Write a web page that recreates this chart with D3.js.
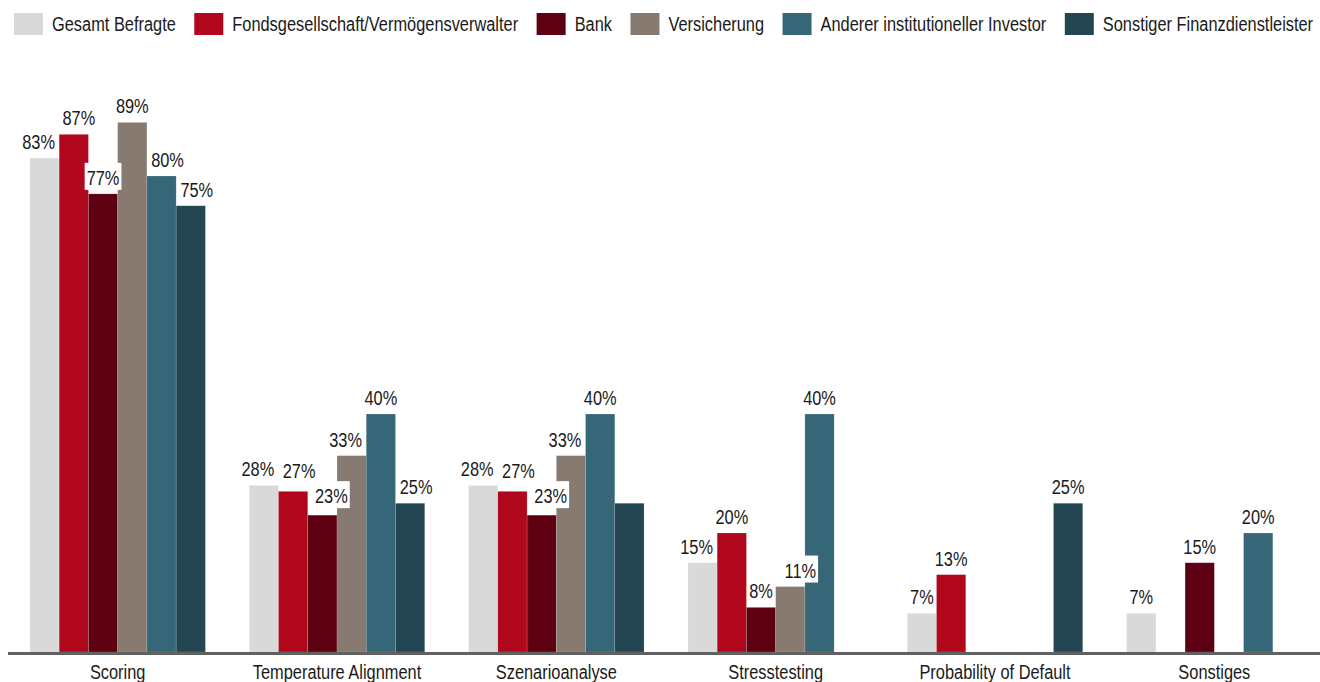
<!DOCTYPE html>
<html>
<head>
<meta charset="utf-8">
<script src="https://cdn.jsdelivr.net/npm/d3@7"></script>
<style>
  html, body { margin: 0; padding: 0; background: #fff; }
  svg { display: block; }
  text { font-family: "Liberation Sans", Arial, sans-serif; fill: #1a1a1a; }
</style>
</head>
<body>
<svg id="chart" width="1320" height="682"></svg>
<script>
// ---- data ----
const categories = ["Scoring", "Temperature Alignment", "Szenarioanalyse", "Stresstesting", "Probability of Default", "Sonstiges"];
const seriesNames = ["Gesamt Befragte", "Fondsgesellschaft/Vermögensverwalter", "Bank", "Versicherung", "Anderer institutioneller Investor", "Sonstiger Finanzdienstleister"];
const gesamtBefragte  = [83, 28, 28, 15, 6.5, 6.5];
const fondsgesellschaft = [87, 27, 27, 20, 13, 0];
const bank            = [77, 23, 23, 7.5, 0, 15];
const versicherung    = [89, 33, 33, 11, 0, 0];
const andererInvestor = [80, 40, 40, 40, 0, 20];
const sonstigerFinanz = [75, 25, 25, 0, 25, 0];
const seriesValues = [gesamtBefragte, fondsgesellschaft, bank, versicherung, andererInvestor, sonstigerFinanz];
// labels not shown in the original
const hiddenLabels = [["Szenarioanalyse", "Sonstiger Finanzdienstleister"]];

// ---- styles / layout ----
const colors = ["#d9d9d9", "#b1071d", "#5d0011", "#877b71", "#356779", "#244653"];
// label nudges (per category, per series), as placed in the original
const labelNudgeX = [
  [-6, 5, 0, 0, 6, 6],
  [-6, 6, 9, -6, 0, 6],
  [-6, 6, 9, -6, 0, 6],
  [-6, 0, 0, 10, 0, 0],
  [0, 0, 0, 0, 0, 0],
  [0, 0, 0, 0, 0, 0]
];
const labelNudgeY = [
  [0, 0, 0, 0, 0, 0],
  [0, -4, -3, 0, 0, 0],
  [0, -4, -3, 0, 0, 0],
  [0, 0, 0, 0, 0, 0],
  [0, 0, 0, 0, 0, 0],
  [0, 0, 0, 0, 0, 0]
];

const svg = d3.select("#chart");
const FONT = 21;
const SQUEEZE = 0.78; // narrow-font emulation
const narrow = `scale(${SQUEEZE},1)`;

const x0 = d3.scaleBand().domain(categories).range([8, 1324]).paddingInner(0.2).paddingOuter(0.1);
const x1 = d3.scaleBand().domain(seriesNames).range([0, x0.bandwidth()]);
const y = d3.scaleLinear().domain([0, 100]).range([652, 57]);

const rows = [];
categories.forEach((c, ci) => {
  seriesNames.forEach((s, si) => {
    rows.push({ cat: c, ci, ser: s, si, v: seriesValues[si][ci] });
  });
});
const shown = rows.filter(d => d.v > 0);

// bars
svg.append("g").selectAll("rect").data(shown).join("rect")
  .attr("x", d => x0(d.cat) + x1(d.ser))
  .attr("y", d => y(d.v))
  .attr("width", x1.bandwidth())
  .attr("height", d => y(0) - y(d.v))
  .attr("fill", d => colors[d.si])
  .attr("stroke", "#ffffff")
  .attr("stroke-opacity", 0.25)
  .attr("stroke-width", 0.6);

// axis
const xAxis = d3.axisBottom(x0).tickSize(0).tickPadding(0);
const ax = svg.append("g").attr("transform", `translate(0,${y(0)})`).call(xAxis);
ax.select(".domain").attr("d", "M8,1.5H1320").attr("stroke", "#616161").attr("stroke-width", 3);
ax.selectAll(".tick text")
  .attr("y", 27).attr("dy", 0)
  .attr("transform", narrow)
  .style("font-size", FONT + "px")
  .style("font-family", "'Liberation Sans', Arial, sans-serif")
  .attr("fill", "#1a1a1a");

// value labels with white boxes
const labelData = shown.filter(d => !hiddenLabels.some(h => h[0] === d.cat && h[1] === d.ser));
const lg = svg.append("g");
const labs = lg.selectAll("g").data(labelData).join("g")
  .attr("transform", d => `translate(${x0(d.cat) + x1(d.ser) + x1.bandwidth() / 2 + labelNudgeX[d.ci][d.si]}, ${y(d.v) - 9 + labelNudgeY[d.ci][d.si]})`);
labs.append("rect").attr("fill", "#ffffff");
labs.append("text")
  .attr("text-anchor", "middle")
  .attr("transform", narrow)
  .style("font-size", FONT + "px")
  .text(d => Math.round(d.v) + "%");
labs.each(function () {
  const g = d3.select(this);
  const w = g.select("text").node().getComputedTextLength() * SQUEEZE;
  g.select("rect").attr("x", -w / 2 - 2).attr("y", -22).attr("width", w + 4).attr("height", 27);
});

// legend
const leg = svg.append("g").attr("transform", "translate(14,13)");
let lx = 0;
seriesNames.forEach((s, i) => {
  const g = leg.append("g").attr("transform", `translate(${lx},0)`);
  g.append("rect").attr("width", 29).attr("height", 22).attr("fill", colors[i]);
  const t = g.append("text").attr("transform", `translate(38,18) ${narrow}`).style("font-size", FONT + "px").text(s);
  lx += 38 + t.node().getComputedTextLength() * SQUEEZE + 18.5;
});
</script>
</body>
</html>
